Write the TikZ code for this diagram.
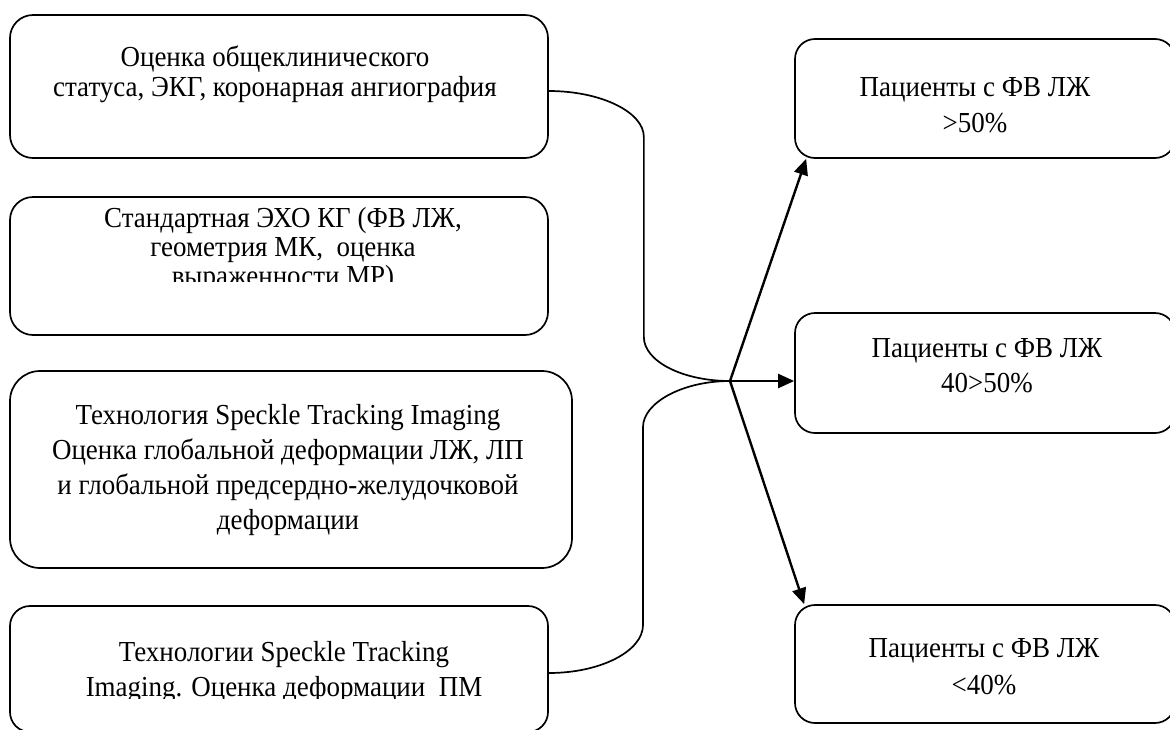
\documentclass[tikz,border=0pt]{standalone}
\usepackage{fontspec}
\setmainfont{Liberation Serif}[FakeStretch=0.93]
\usetikzlibrary{arrows.meta}
\newcommand\mlines[1]{\begin{tabular}[t]{@{}c@{}}#1\end{tabular}}
\begin{document}
\begin{tikzpicture}[x=1pt,y=-1pt,
  box/.style={draw, line width=1.7pt, inner sep=0pt},
  txt/.style={anchor=base, inner sep=0pt},
  conn/.style={line width=1.7pt},
  arr/.style={line width=2.4pt, -{Triangle[length=16pt,width=14pt]}}]
\useasboundingbox (0,0) rectangle (1170,729);
% left boxes
\node[box, rounded corners=23pt, minimum width=538pt, minimum height=143pt] (b1) at (279,86.5) {};
\node[box, rounded corners=23pt, minimum width=538pt, minimum height=138pt] (b2) at (279,266) {};
\node[box, rounded corners=30pt, minimum width=562pt, minimum height=197pt] (b3) at (291,469.5) {};
\node[box, rounded corners=20pt, minimum width=538pt, minimum height=126pt] (b4) at (279,669) {};
% right boxes
\node[box, rounded corners=20pt, minimum width=380pt, minimum height=119pt] (r1) at (985,98.5) {};
\node[box, rounded corners=20pt, minimum width=380pt, minimum height=120pt] (r2) at (985,373) {};
\node[box, rounded corners=20pt, minimum width=380pt, minimum height=118pt] (r3) at (985,664) {};
% texts
\node[txt, font=\fontsize{29}{30}\selectfont] (t1) at (275,66)
  {\mlines{Оценка общеклинического\\статуса, ЭКГ, коронарная ангиография}};
\begin{scope}
\clip (0,190) rectangle (600,281);
\node[txt, font=\fontsize{29}{29}\selectfont] (t2) at (283,227)
  {\mlines{Стандартная ЭХО КГ (ФВ ЛЖ,\\геометрия МК,~ оценка\\выраженности МР)}};
\end{scope}
\node[txt, font=\fontsize{29}{35}\selectfont] (t3) at (288,424)
  {\mlines{Технология Speckle Tracking Imaging\\Оценка глобальной деформации ЛЖ, ЛП\\и глобальной предсердно-желудочковой\\деформации}};
\begin{scope}
\clip (0,600) rectangle (600,698);
\node[txt, font=\fontsize{29}{35}\selectfont] (t4) at (284,661)
  {\mlines{Технологии Speckle Tracking\\Imaging. Оценка деформации~ ПМ}};
\end{scope}
\node[txt, font=\fontsize{29}{36}\selectfont] (s1) at (975,96)
  {\mlines{Пациенты с ФВ ЛЖ\\>50\%}};
\node[txt, font=\fontsize{29}{35}\selectfont] (s2) at (987,357)
  {\mlines{Пациенты с ФВ ЛЖ\\40>50\%}};
\node[txt, font=\fontsize{29}{37}\selectfont] (s3) at (984,657)
  {\mlines{Пациенты с ФВ ЛЖ\\<40\%}};
% junction
\coordinate (j) at (730,381);
% curved connectors
\draw[conn] ([yshift=-4.5pt]b1.east) .. controls +(52,0) and +(0,-25) .. ++(95,46)
  -- ++(0,200) .. controls +(0,24) and +(-48,0) .. (j);
\draw[conn] (j) .. controls +(-48,0) and +(0,-24) .. ++(-87,46)
  -- ++(0,198) .. controls +(0,26) and +(52,0) .. ([yshift=-4pt]b4.east);
% arrows
\draw[arr] (j) -- ([xshift=12pt]r1.south west);
\draw[arr] (j) -- (r2.west |- j);
\draw[arr] (j) -- ([xshift=10pt]r3.north west);
\end{tikzpicture}
\end{document}
